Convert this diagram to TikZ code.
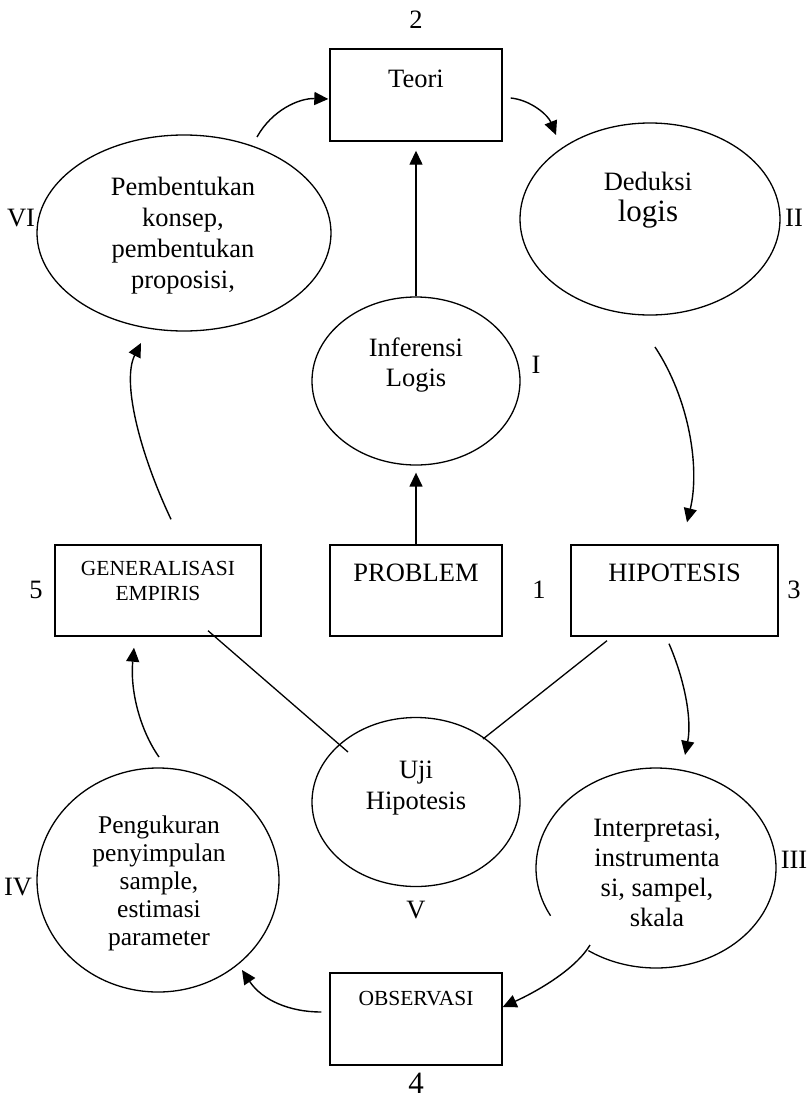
\documentclass[tikz,border=0pt]{standalone}
\usepackage{fontspec}
\setmainfont{Liberation Serif}
\usetikzlibrary{arrows.meta,shapes.geometric,calc}
\begin{document}
\begin{tikzpicture}[x=1pt,y=-1pt,
  box/.style={draw,line width=1.4pt,minimum width=172pt,minimum height=92pt,inner sep=0pt},
  ell/.style={draw,ellipse,line width=1.3pt,inner sep=0pt},
  txt/.style={align=center,inner sep=0pt,font=\fontsize{26.5}{30.5}\selectfont},
  small/.style={align=center,inner sep=0pt,font=\fontsize{21.5}{25}\selectfont},
  arr/.style={line width=1.4pt,-{Triangle[length=14pt,width=13pt]}},
  ln/.style={line width=1.3pt}]
\useasboundingbox (0,0) rectangle (811,1100);

% boxes
\node[box] (teori) at (416,95) {};
\node[box,minimum width=206pt,minimum height=91pt] (gen) at (158,590.5) {};
\node[box,minimum height=91pt] (prob) at (416,590.5) {};
\node[box,minimum width=207pt,minimum height=91pt] (hip) at (674.5,590.5) {};
\node[box] (obs) at (416,1019) {};

% ellipses
\node[ell,minimum width=294pt,minimum height=196pt] (vi) at (184,233) {};
\node[ell,minimum width=260pt,minimum height=192pt] (ded) at (650,219) {};
\node[ell,minimum width=208pt,minimum height=168pt] (inf) at (416,381) {};
\node[ell,minimum width=208pt,minimum height=169pt] (uji) at (416,802) {};
\node[ell,minimum width=242pt,minimum height=224pt] (peng) at (158,880) {};
\node[ell,draw=none,minimum width=240pt,minimum height=200pt] (interp) at (656,868) {};
\draw[line width=1.3pt] plot[domain=235.7:568.5,samples=90,smooth] ({656+120*cos(\x)},{868-100*sin(\x)});

% texts
\node[txt] (teoriT) at (416,79) {Teori};
\node[txt,font=\fontsize{26.5}{31}\selectfont] (viT) at (183,236) {Pembentukan\\konsep,\\pembentukan\\proposisi,};
\node[txt] (dedT1) at (648,181) {Deduksi};
\node[txt,font=\fontsize{31}{34}\selectfont] (dedT2) at (648,214) {logis};
\node[txt] (infT) at (416,365) {Inferensi\\Logis};
\node[small] (genT) at (158,581) {GENERALISASI\\EMPIRIS};
\node[txt] (probT) at (416,573) {PROBLEM};
\node[txt] (hipT) at (674.5,573) {HIPOTESIS};
\node[txt] (ujiT) at (416,788) {Uji\\Hipotesis};
\node[txt,font=\fontsize{25.5}{28}\selectfont] (pengT) at (159,883) {Pengukuran\\penyimpulan\\sample,\\estimasi\\parameter};
\node[txt,font=\fontsize{26.5}{30}\selectfont] (interpT) at (657,873) {Interpretasi,\\instrumenta\\si, sampel,\\skala};
\node[small] (obsT) at (416,999) {OBSERVASI};

% labels
\node[txt] (l2) at (416,20) {2};
\node[txt] (lVI) at (21,218) {VI};
\node[txt] (lII) at (794,218) {II};
\node[txt] (lI) at (536,365) {I};
\node[txt] (l5) at (36,590) {5};
\node[txt] (l1) at (539,590) {1};
\node[txt] (l3) at (794,590) {3};
\node[txt] (lIV) at (18,887) {IV};
\node[txt] (lIII) at (794,860) {III};
\node[txt] (lV) at (416,910) {V};
\node[txt,font=\fontsize{31}{34}\selectfont] (l4) at (416,1083) {4};

% connectors
\draw[arr] ($(vi.center)+(73,-96)$) .. controls ($(vi.center)+(88,-123)$) and ($(teori.west)+(-30,3)$) .. ($(teori.west)+(-1,4)$);
\draw[arr] ($(teori.east)+(8,3)$) .. controls ($(teori.east)+(28,5)$) and ($(ded.center)+(-102,-104)$) .. ($(ded.center)+(-94,-84)$);
\draw[arr] (inf.north) -- ($(teori.south)+(0,9)$);
\draw[arr] (prob.north) -- ($(inf.south)+(0,7)$);
\draw[arr] ($(gen.north)+(13,-25)$) .. controls ($(gen.north)+(-20,-95)$) and ($(vi.center)+(-62,147)$) .. ($(vi.center)+(-43,110)$);
\draw[arr] ($(ded.center)+(5,128)$) .. controls ($(ded.center)+(40,181)$) and ($(hip.north)+(25.5,-75)$) .. ($(hip.north)+(12.5,-22)$);
\draw[arr] ($(hip.south)+(-5.5,7)$) .. controls ($(hip.south)+(10.5,44)$) and ($(interp.center)+(36,-148)$) .. ($(interp.center)+(29,-113)$);
\draw[arr] ($(peng.center)+(1,-123)$) .. controls ($(peng.center)+(-18,-150)$) and ($(gen.south)+(-28,54)$) .. ($(gen.south)+(-24,11)$);
\draw[arr] ($(interp.center)+(-66,77)$) .. controls ($(interp.center)+(-81,102)$) and ($(obs.east)+(33,-27)$) .. ($(obs.east)+(0,-12)$);
\draw[arr] ($(obs.west)+(-8,-7)$) .. controls ($(obs.west)+(-40,-7)$) and ($(peng.center)+(104,120)$) .. ($(peng.center)+(84,90)$);
\draw[ln] ($(gen.south)+(50,-6)$) -- ($(uji.center)+(-68,-50)$);
\draw[ln] ($(hip.south)+(-67.5,4)$) -- ($(uji.center)+(67,-63)$);
\end{tikzpicture}
\end{document}
